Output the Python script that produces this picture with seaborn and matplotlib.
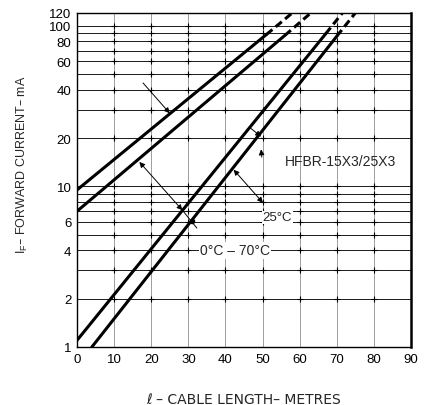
import numpy as np
import pandas as pd
import matplotlib
matplotlib.use("Agg")
import matplotlib.pyplot as plt
import seaborn as sns

# ---- data ----
curve_names = ["A", "B", "C", "D"]
length_start = [0, 0, 0, 4]
current_start = [9.5, 7.0, 1.1, 1.0]
length_dash = [51, 56, 67, 70]
current_dash = [88, 87, 89, 86]
length_end = [58, 63, 71.5, 75]
current_end = [120, 120, 120, 120]

x_ticks = [0, 10, 20, 30, 40, 50, 60, 70, 80, 90]
y_ticks = [1, 2, 4, 6, 10, 20, 40, 60, 80, 100, 120]
y_grid = [2, 3, 4, 5, 6, 7, 8, 9, 10, 20, 30, 40, 50, 60, 70, 80, 90, 100]
x_grid = [10, 20, 30, 40, 50, 60, 70, 80]

sns.set_style("white")
plt.rcParams["font.family"] = ["Liberation Sans", "DejaVu Sans"]

fig = plt.figure(figsize=(4.25, 4.06), dpi=100)
ax = fig.add_axes([77 / 425, 1 - 348 / 406, (411 - 77) / 425, (348 - 14) / 406])

ax.set_yscale("log")
ax.set_xlim(0, 90)
ax.set_ylim(1, 120)

# grid
for yv in y_grid:
    ax.axhline(yv, color="#1a1a1a", lw=0.7, zorder=1)
for xv in x_grid:
    ax.axvline(xv, color="#777777", lw=0.5, zorder=1)
gx, gy = np.meshgrid(x_grid, y_grid)
ax.plot(gx.ravel(), gy.ravel(), linestyle="none", marker="+", ms=4.5,
        mew=0.8, color="black", zorder=1.5)

# curves
for i, name in enumerate(curve_names):
    solid = pd.DataFrame({"length": [length_start[i], length_dash[i]],
                          "current": [current_start[i], current_dash[i]]})
    dashed = pd.DataFrame({"length": [length_dash[i], length_end[i]],
                           "current": [current_dash[i], current_end[i]]})
    sns.lineplot(data=solid, x="length", y="current", ax=ax, color="black",
                 lw=2.2, sort=False, estimator=None, zorder=3)
    sns.lineplot(data=dashed, x="length", y="current", ax=ax, color="black",
                 lw=2.2, sort=False, estimator=None, zorder=3,
                 linestyle=(0, (2.6, 1.4)))

# axes style
ax.set_xticks(x_ticks)
ax.set_xticklabels([str(v) for v in x_ticks])
ax.set_yticks(y_ticks)
ax.set_yticklabels([str(v) for v in y_ticks])
ax.yaxis.set_minor_locator(matplotlib.ticker.NullLocator())
ax.tick_params(axis="both", length=0, labelsize=9.5, colors="black")
ax.tick_params(axis="x", pad=4)
ax.tick_params(axis="y", pad=4)
for s in ["left", "bottom", "top"]:
    ax.spines[s].set_color("black")
    ax.spines[s].set_linewidth(1.0)
ax.spines["right"].set_color("black")
ax.spines["right"].set_linewidth(1.8)

ax.set_xlabel("ℓ – CABLE LENGTH– METRES", fontsize=10,
              family=["DejaVu Sans"])
ax.xaxis.set_label_coords(0.5, -(393 - 348) / 334)
ax.set_ylabel(r"I$_\mathregular{F}$– FORWARD CURRENT– mA", fontsize=9)
ax.yaxis.set_label_coords(-(77 - 30) / 334, (348 - 165) / 334)

# annotations
arr = dict(arrowstyle="-|>", color="black", lw=0.7, mutation_scale=8,
           shrinkA=0, shrinkB=0)
dbl = dict(arrowstyle="<|-|>", color="black", lw=0.7, mutation_scale=8,
           shrinkA=0, shrinkB=0)
ax.annotate("", xy=(25, 28.5), xytext=(17.8, 44), arrowprops=arr, zorder=4)
ax.annotate("", xy=(16.8, 14.2), xytext=(28.4, 7.1), arrowprops=dbl, zorder=4)
ax.annotate("", xy=(28.4, 7.1), xytext=(32.3, 5.5),
            arrowprops=dict(arrowstyle="-", color="black", lw=0.7,
                            shrinkA=0, shrinkB=0), zorder=4)
ax.plot([30.9], [6.1], marker="o", ms=3, color="black", zorder=4)
ax.annotate("", xy=(42.2, 12.7), xytext=(50.1, 7.9), arrowprops=dbl, zorder=4)
ax.annotate("", xy=(49.6, 20.4), xytext=(46.8, 23.0), arrowprops=arr, zorder=4)
ax.annotate("", xy=(49.6, 17.0), xytext=(49.8, 15.2), arrowprops=arr, zorder=4)

ax.text(56, 14.3, "HFBR-15X3/25X3", fontsize=10, ha="left", va="center",
        zorder=5)
ax.text(50.0, 6.4, "25°C", fontsize=9.5, ha="left", va="center", zorder=5,
        bbox=dict(facecolor="white", edgecolor="none", pad=0.5))
ax.text(42.6, 4.0, "0°C – 70°C", fontsize=10, ha="center", va="center",
        zorder=5, bbox=dict(facecolor="white", edgecolor="none", pad=1.0))

fig.savefig("out.png", dpi=100)
